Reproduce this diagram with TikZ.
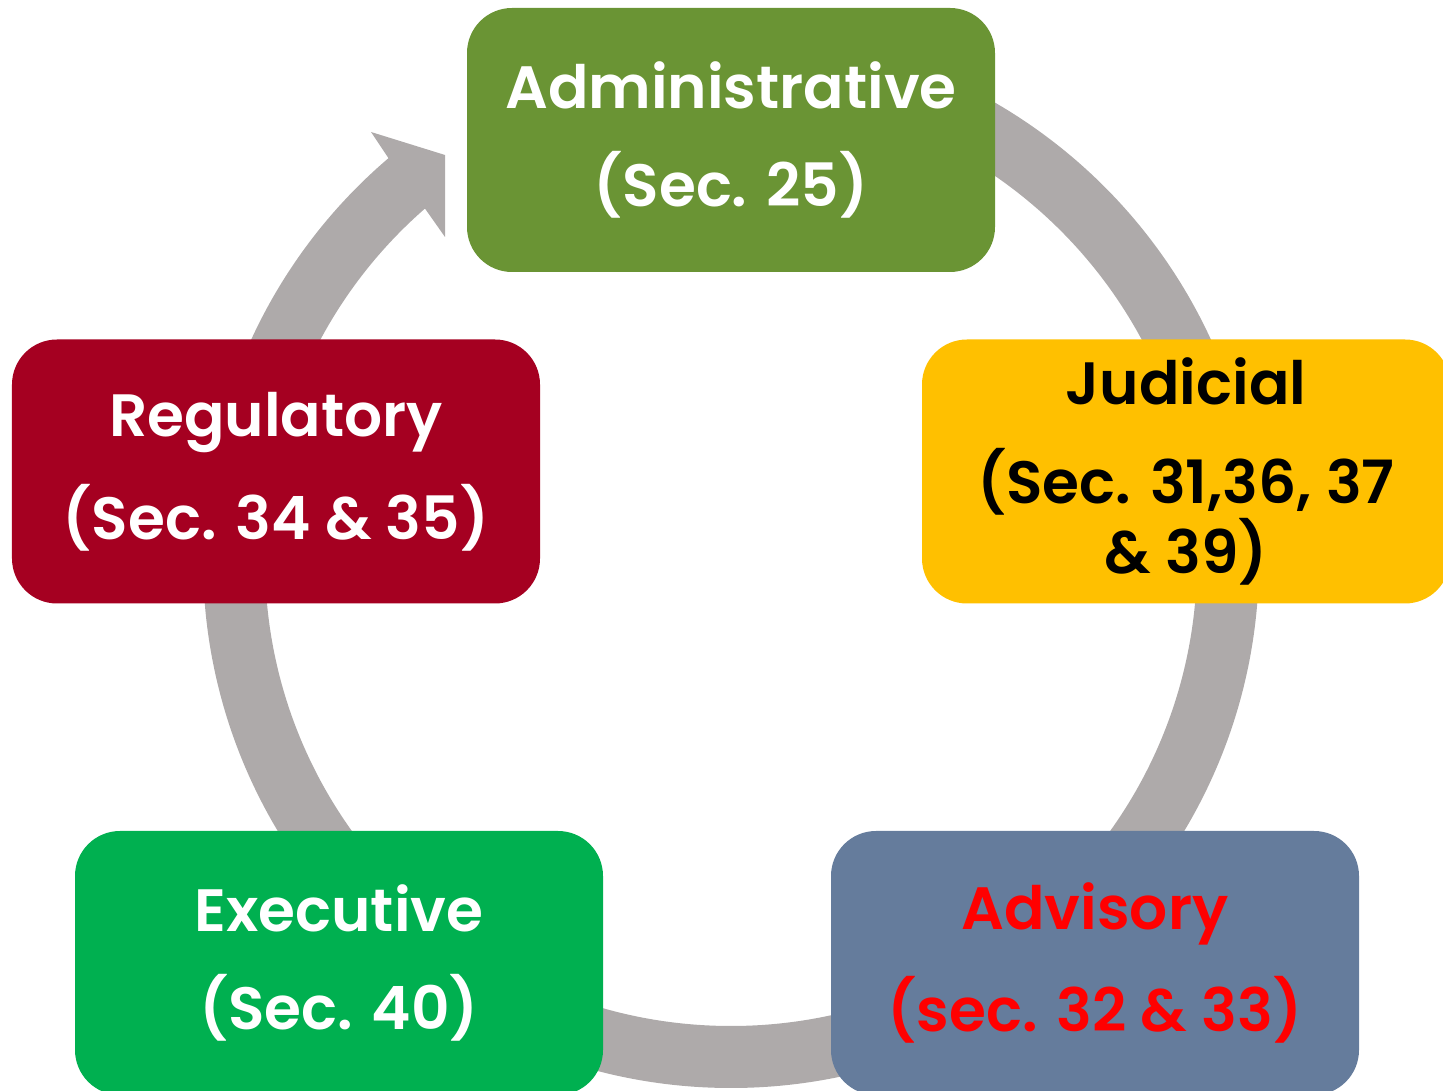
\documentclass[tikz,border=0pt]{standalone}
\usepackage{fontspec}
\setmainfont{Poppins}[BoldFont={* SemiBold}]
\usetikzlibrary{calc}
\definecolor{ringgray}{HTML}{AEAAAA}
\definecolor{admingreen}{HTML}{6A9434}
\definecolor{judgold}{HTML}{FFC000}
\definecolor{regred}{HTML}{A50021}
\definecolor{execgreen}{HTML}{00B050}
\definecolor{advblue}{HTML}{657C9C}
\definecolor{advred}{HTML}{FF0000}
\tikzset{
	box/.style={rounded corners=0.45cm, minimum width=5.28cm, minimum height=2.64cm, align=center, inner sep=0pt, font=\bfseries\fontsize{17}{20}\selectfont},
}

\begin{document}
\begin{tikzpicture}
			%%%%% START %%%%%
			
			\useasboundingbox (0, 0) rectangle (14.43, 10.91);
			\coordinate (ctr) at (7.31, 5.31);
			
			\draw[line width = 0.62cm, color=ringgray] ($(ctr)+(90:4.97)$) arc (90:-230:4.97);
			\fill[ringgray] (3.71, 9.59) -- (4.45, 9.36) -- (4.45, 8.54) -- (4.26, 8.81) -- (3.89, 9.32) -- cycle;
			
			\node[box, fill=admingreen, text=white] (admin) at (7.31, 9.51) {Administrative\\[8pt](Sec. 25)};
			\node[box, fill=judgold, text=black] (judicial) at (11.86, 6.195) {Judicial\\[8pt](Sec. 31,36, 37\\\& 39)};
			\node[box, fill=advblue, text=advred] (advisory) at (10.95, 1.28) {Advisory\\[8pt](sec. 32 \& 33)};
			\node[box, fill=execgreen, text=white] (executive) at (3.39, 1.28) {Executive\\[8pt](Sec. 40)};
			\node[box, fill=regred, text=white] (regulatory) at (2.76, 6.195) {Regulatory\\[8pt](Sec. 34 \& 35)};
			
			%%%%% END %%%%%
\end{tikzpicture}
\end{document}
